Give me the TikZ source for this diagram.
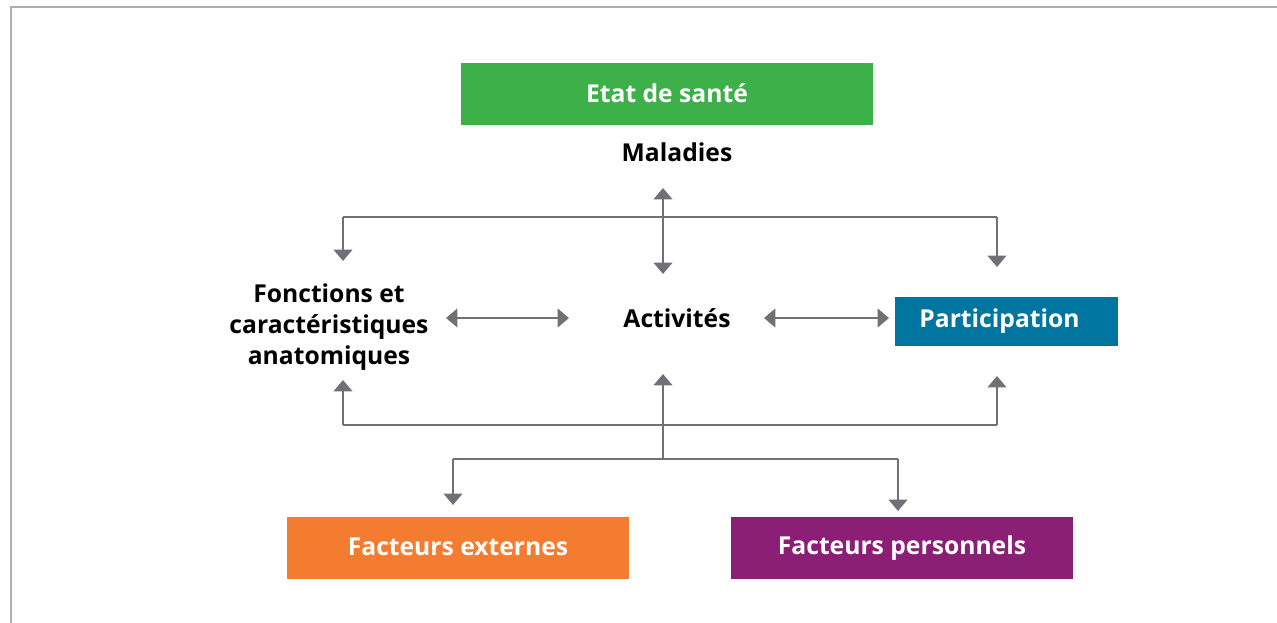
\documentclass[tikz,border=0pt]{standalone}
\usepackage{fontspec}
\setmainfont{Open Sans}
\usetikzlibrary{arrows.meta}
\definecolor{frameline}{RGB}{175,175,175}
\definecolor{flowgrey}{RGB}{112,112,118}
\definecolor{health}{RGB}{61,176,74}
\definecolor{partblue}{RGB}{0,117,160}
\definecolor{extorange}{RGB}{244,124,48}
\definecolor{perspurple}{RGB}{139,31,117}
\tikzset{
    line cap=butt,
    frame/.style={draw=frameline, line width=1.5pt},
    labeltext/.style={font=\bfseries\fontsize{18.5}{23}\selectfont, text=black, align=center, inner sep=0pt},
    colorbox/.style={rectangle, text=white, font=\bfseries\fontsize{18.5}{23}\selectfont, inner sep=0pt},
    flow/.style={draw=flowgrey, line width=1.4pt},
    flowarrow/.style={flow, -{Triangle[width=14pt, length=8.5pt]}},
    flowboth/.style={flow, {Triangle[width=14pt, length=8.5pt]}-{Triangle[width=14pt, length=8.5pt]}}
}
\begin{document}
\begin{tikzpicture}[x=0.75pt, y=-0.75pt]
\useasboundingbox (0,0) rectangle (1277,623);

% Frame
\draw[frame] (11,623) -- (11,7.5) -- (1277,7.5);

% Nodes
\node[colorbox, fill=health, minimum width=309pt, minimum height=46.5pt] (etat) at (667,94) {\raisebox{1.5pt}{Etat de santé}};
\node[labeltext] (maladies) at (677,152) {Maladies};
\node[labeltext] (fonctions) at (329,327) {Fonctions et\\caractéristiques\\anatomiques};
\node[labeltext] (activites) at (677,318) {Activités};
\node[colorbox, fill=partblue, minimum width=167.25pt, minimum height=36.75pt] (participation) at (1006.5,321.5) {\raisebox{1.5pt}{Participation}\kern10.5pt};
\node[colorbox, fill=extorange, minimum width=256.5pt, minimum height=46.5pt] (externes) at (458,548) {\raisebox{1.5pt}{Facteurs externes}};
\node[colorbox, fill=perspurple, minimum width=256.5pt, minimum height=46.5pt] (personnels) at (902,548) {\raisebox{1.5pt}{Facteurs personnels}};

% Junctions and arrow tips
\coordinate (topL) at (343,217);
\coordinate (topR) at (997,217);
\coordinate (topLtip) at (343,261);
\coordinate (topRtip) at (997,267);
\coordinate (malTip) at (663,188);
\coordinate (actTop) at (663,274);
\coordinate (actBot) at (663,374);
\coordinate (botL) at (343,425);
\coordinate (botR) at (997,425);
\coordinate (botLtip) at (343,380);
\coordinate (botRtip) at (997,376);
\coordinate (hub) at (663,459);
\coordinate (hubL) at (453,459);
\coordinate (hubR) at (898,459);
\coordinate (hubLtip) at (453,505);
\coordinate (hubRtip) at (898,511);
\coordinate (fonR) at (446,318);
\coordinate (actL) at (569,318);
\coordinate (actR) at (764,318);
\coordinate (parL) at (889,318);

% Top distribution
\draw[flow] (topL) -- (topR);
\draw[flowarrow] (topL) -- (topLtip);
\draw[flowarrow] (topR) -- (topRtip);
\draw[flowboth] (malTip) -- (actTop);

% Middle row
\draw[flowboth] (fonR) -- (actL);
\draw[flowboth] (actR) -- (parL);

% Bottom collection
\draw[flowarrow] (botL) -- (botLtip);
\draw[flowarrow] (botR) -- (botRtip);
\draw[flow] (botL) -- (botR);
\draw[flowarrow] (hub) -- (actBot);
\draw[flow] (hubL) -- (hubR);
\draw[flowarrow] (hubL) -- (hubLtip);
\draw[flowarrow] (hubR) -- (hubRtip);

\end{tikzpicture}
\end{document}
